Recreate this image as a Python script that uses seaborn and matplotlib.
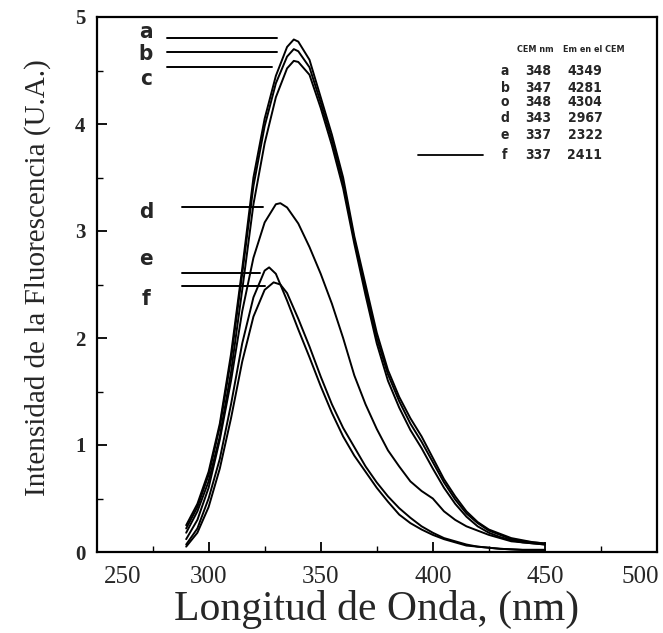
import matplotlib
matplotlib.use("Agg")
import matplotlib.pyplot as plt
import matplotlib.transforms as mtransforms
import seaborn as sns
import pandas as pd
import numpy as np

# ---------------- data ----------------
wl_a = [290, 295, 300, 305, 310, 315, 320, 325, 330, 335, 338, 340, 345, 350, 355, 360, 365, 370,
        375, 380, 385, 390, 395, 400, 405, 410, 415, 420, 425, 430, 435, 440, 445, 450]
int_a = [0.25, 0.45, 0.75, 1.20, 1.85, 2.65, 3.50, 4.05, 4.45, 4.72, 4.79, 4.77, 4.60, 4.25, 3.90,
         3.50, 2.95, 2.50, 2.05, 1.70, 1.45, 1.25, 1.08, 0.88, 0.68, 0.52, 0.38, 0.28, 0.21, 0.17,
         0.13, 0.11, 0.09, 0.08]
wl_b = wl_a
int_b = [0.22, 0.42, 0.72, 1.17, 1.80, 2.60, 3.42, 3.98, 4.38, 4.63, 4.70, 4.68, 4.53, 4.20, 3.85,
         3.45, 2.92, 2.45, 2.00, 1.66, 1.41, 1.20, 1.03, 0.84, 0.65, 0.49, 0.36, 0.27, 0.20, 0.16,
         0.12, 0.10, 0.09, 0.08]
wl_c = wl_a
int_c = [0.18, 0.38, 0.66, 1.08, 1.68, 2.45, 3.25, 3.82, 4.25, 4.52, 4.59, 4.58, 4.46, 4.15, 3.80,
         3.40, 2.88, 2.40, 1.95, 1.60, 1.35, 1.14, 0.97, 0.78, 0.60, 0.45, 0.33, 0.24, 0.18, 0.14,
         0.11, 0.09, 0.08, 0.07]
wl_d = [290, 295, 300, 305, 310, 315, 320, 325, 330, 332, 335, 340, 345, 350, 355, 360, 365, 370,
        375, 380, 385, 390, 395, 400, 405, 410, 415, 420, 425, 430, 435, 440, 445, 450]
int_d = [0.12, 0.30, 0.60, 1.05, 1.60, 2.25, 2.75, 3.08, 3.25, 3.26, 3.22, 3.07, 2.85, 2.60, 2.32,
         2.00, 1.65, 1.38, 1.15, 0.95, 0.80, 0.66, 0.57, 0.50, 0.38, 0.30, 0.24, 0.20, 0.16, 0.13,
         0.10, 0.09, 0.08, 0.07]
wl_e = [290, 295, 300, 305, 310, 315, 320, 325, 327, 330, 335, 340, 345, 350, 355, 360, 365, 370,
        375, 380, 385, 390, 395, 400, 405, 410, 415, 420, 425, 430, 440, 450]
int_e = [0.07, 0.22, 0.50, 0.87, 1.38, 1.95, 2.38, 2.63, 2.66, 2.60, 2.35, 2.08, 1.82, 1.55, 1.30,
         1.08, 0.90, 0.75, 0.60, 0.47, 0.35, 0.27, 0.21, 0.16, 0.12, 0.09, 0.06, 0.05, 0.04, 0.03,
         0.02, 0.02]
wl_f = [290, 295, 300, 305, 310, 315, 320, 325, 329, 332, 335, 340, 345, 350, 355, 360, 365, 370,
        375, 380, 385, 390, 395, 400, 405, 410, 415, 420, 425, 430, 440, 450]
int_f = [0.05, 0.18, 0.42, 0.78, 1.25, 1.78, 2.20, 2.45, 2.52, 2.50, 2.42, 2.18, 1.92, 1.64, 1.38,
         1.16, 0.98, 0.80, 0.65, 0.52, 0.41, 0.32, 0.24, 0.18, 0.13, 0.10, 0.07, 0.05, 0.04, 0.03,
         0.02, 0.02]

series = ["a", "b", "c", "d", "e", "f"]
# marker lines on the left (level, start, end) and letter positions
mark_level = [4.80, 4.67, 4.53, 3.22, 2.61, 2.49]
mark_start = [281.5, 281.5, 281.5, 288.0, 288.0, 288.0]
mark_end = [330.5, 330.5, 328.3, 324.3, 323.0, 325.2]
letter_y = [4.86, 4.65, 4.42, 3.18, 2.74, 2.36]

# table values
cem_nm = ["348", "347", "348", "343", "337", "337"]
em_cem = ["4349", "4281", "4304", "2967", "2322", "2411"]
tbl_letters = ["a", "b", "o", "d", "e", "f"]

x_ticks = [250, 300, 350, 400, 450, 500]
y_ticks = [0, 1, 2, 3, 4, 5]

# ---------------- build long table ----------------
frames = []
for name, wl, val in zip(series, [wl_a, wl_b, wl_c, wl_d, wl_e, wl_f],
                         [int_a, int_b, int_c, int_d, int_e, int_f]):
    frames.append(pd.DataFrame({"wl": wl, "val": val, "s": name}))
df = pd.concat(frames, ignore_index=True)

# ---------------- figure ----------------
sns.set_style("ticks")
plt.rcParams["font.family"] = ["Liberation Serif", "DejaVu Serif"]

W, H = 663, 633
fig = plt.figure(figsize=(W / 100, H / 100), dpi=100)
ax = fig.add_axes([96.5 / W, 1 - 552 / H, (657 - 96.5) / W, (552 - 17) / H])

sns.lineplot(data=df, x="wl", y="val", hue="s", units="s", estimator=None, sort=False,
             palette=["black"] * 6, linewidth=1.4, legend=False, ax=ax)

ax.set_xlim(250, 500)
ax.set_ylim(0, 5)

for sp in ax.spines.values():
    sp.set_visible(True)
    sp.set_linewidth(1.6)
    sp.set_color("black")

ax.set_xticks(x_ticks)
ax.set_xticks(np.arange(275, 500, 50), minor=True)
ax.set_yticks(y_ticks)
ax.set_yticks(np.arange(0.5, 5, 1.0), minor=True)
ax.tick_params(which="major", direction="in", length=7, width=1.3, color="black")
ax.tick_params(which="minor", direction="in", length=4, width=1.0, color="black")
ax.tick_params(axis="x", which="major", pad=10, labelsize=18)
ax.tick_params(axis="y", which="major", pad=8, labelsize=15)

ax.set_xticklabels([str(t) for t in x_ticks], fontfamily="Liberation Serif")
ax.set_yticklabels([str(t) for t in y_ticks], fontweight="bold", fontfamily="Liberation Serif")

# shift end labels like the reference
lbls = ax.get_xticklabels()
lbls[0].set_transform(lbls[0].get_transform() + mtransforms.ScaledTranslation(0.26, 0, fig.dpi_scale_trans))
lbls[-1].set_transform(lbls[-1].get_transform() + mtransforms.ScaledTranslation(-0.17, 0, fig.dpi_scale_trans))

ax.set_xlabel("Longitud de Onda, (nm)", fontsize=30, fontfamily="Liberation Serif",
              va="baseline")
ax.xaxis.set_label_coords(0.5, -(620 - 552) / (552 - 17))
ax.set_ylabel("Intensidad de la Fluorescencia (U.A.)", fontsize=21,
              fontfamily="Liberation Serif", va="center")
ax.yaxis.set_label_coords(-(96.5 - 38) / (657 - 96.5), (552 - 278) / (552 - 17))

# marker lines and letters
sans = ["DejaVu Sans"]
for name, lev, x0, x1, ly in zip(series, mark_level, mark_start, mark_end, letter_y):
    ax.plot([x0, x1], [lev, lev], color="black", linewidth=1.4)
    ax.text(272, ly, name, fontsize=16, fontweight="bold", fontfamily=sans,
            fontstretch="condensed", ha="center", va="center")

# table at top right
fig.text(535 / W, 1 - 49 / H, "CEM nm", fontsize=6.5, fontweight="bold", fontfamily=sans,
         fontstretch="condensed", ha="center", va="center")
fig.text(563 / W, 1 - 49 / H, "Em en el CEM", fontsize=6.5, fontweight="bold",
         fontfamily=sans, fontstretch="condensed", ha="left", va="center")
row_y = [71, 88, 102, 118, 135, 155]
for ry, lt, c1, c2 in zip(row_y, tbl_letters, cem_nm, em_cem):
    for xx, tx in ((505, lt), (538, c1), (585, c2)):
        fig.text(xx / W, 1 - ry / H, tx, fontsize=10, fontweight="bold", fontfamily=sans,
                 fontstretch="condensed", ha="center", va="center")
fig.add_artist(plt.Line2D([418 / W, 483 / W], [1 - 155 / H, 1 - 155 / H], color="black",
                          linewidth=1.3, transform=fig.transFigure))

fig.savefig("out.png", dpi=100)
